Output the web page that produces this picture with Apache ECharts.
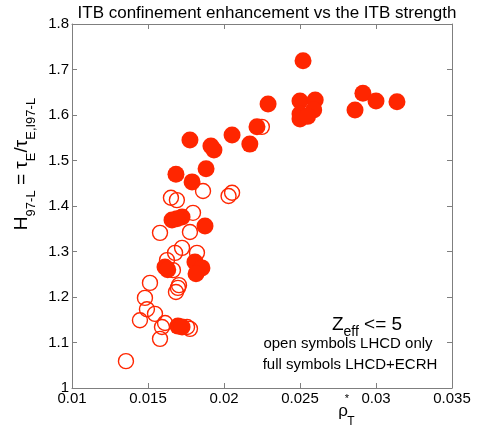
<!DOCTYPE html>
<html><head><meta charset="utf-8">
<script src="https://cdn.jsdelivr.net/npm/echarts@6/dist/echarts.min.js"></script>
<style>html,body{margin:0;padding:0;background:#fff}#c{width:481px;height:434px}</style>
</head><body><div id="c"></div>
<script>
const titleText = 'ITB confinement enhancement vs the ITB strength';
const xTicks = [0.01, 0.015, 0.02, 0.025, 0.03, 0.035];
const yTicks = [1, 1.1, 1.2, 1.3, 1.4, 1.5, 1.6, 1.7, 1.8];
// full symbols: LHCD+ECRH  [rho*_T, H97-L]
const fullSymbols = [
  [0.0252,1.719],[0.0229,1.624],[0.0250,1.631],[0.0250,1.602],[0.0250,1.591],
  [0.0260,1.633],[0.0259,1.611],[0.0255,1.597],[0.02914,1.648],[0.0300,1.631],
  [0.03138,1.629],[0.02862,1.611],[0.02217,1.574],[0.02053,1.556],[0.0217,1.536],
  [0.01914,1.532],[0.01934,1.523],[0.01882,1.482],[0.01776,1.545],[0.01684,1.470],
  [0.0179,1.453],[0.01658,1.369],[0.01724,1.376],[0.0169,1.372],[0.01875,1.356],
  [0.01612,1.266],[0.01630,1.260],[0.01809,1.277],[0.01855,1.264],[0.01816,1.251],
  [0.01697,1.136],[0.01724,1.134]
];
// open symbols: LHCD only
const openSymbols = [
  [0.02249,1.574],[0.02053,1.429],[0.0203,1.422],[0.01862,1.433],[0.01651,1.418],
  [0.0169,1.413],[0.01796,1.385],[0.01579,1.341],[0.01776,1.343],[0.01678,1.297],
  [0.01724,1.308],[0.01625,1.281],[0.01822,1.297],[0.01664,1.259],[0.01513,1.231],
  [0.01697,1.220],[0.01684,1.211],[0.01704,1.226],[0.0148,1.198],[0.01493,1.173],
  [0.01546,1.163],[0.01447,1.149],[0.01592,1.134],[0.01612,1.143],[0.01757,1.134],
  [0.01776,1.130],[0.01579,1.108],[0.01355,1.059]
];
const red = '#ff2600';
const axisGray = '#7f7f7f';
const font = '"Liberation Sans", Arial, Helvetica, sans-serif';
const fmt = v => String(parseFloat(v.toFixed(4)));
const chart = echarts.init(document.getElementById('c'), null, {renderer:'canvas'});
const baseX = {type:'value', min:xTicks[0], max:xTicks[xTicks.length-1], interval:0.005,
  splitLine:{show:false}, axisLine:{lineStyle:{color:axisGray,width:1}},
  axisTick:{inside:true,length:5,lineStyle:{color:axisGray}}};
const baseY = {type:'value', min:yTicks[0], max:yTicks[yTicks.length-1], interval:0.1,
  splitLine:{show:false}, axisLine:{lineStyle:{color:axisGray,width:1}},
  axisTick:{inside:true,length:5,lineStyle:{color:axisGray}}};
chart.setOption({
  animation:false,
  backgroundColor:'#fff',
  title:{text:titleText, left:262, top:0, textAlign:'center',
    textStyle:{fontFamily:font, fontSize:17, fontWeight:'normal', color:'#000'}},
  grid:{left:72, right:29, top:24, bottom:46},
  xAxis:[
    Object.assign({}, baseX, {position:'bottom',
      axisLabel:{color:'#000', fontFamily:font, fontSize:15, margin:3, formatter:fmt}}),
    Object.assign({}, baseX, {position:'top', axisLabel:{show:false}})
  ],
  yAxis:[
    Object.assign({}, baseY, {position:'left',
      axisLabel:{color:'#000', fontFamily:font, fontSize:15, margin:3, formatter:fmt}}),
    Object.assign({}, baseY, {position:'right', axisLabel:{show:false}})
  ],
  series:[
    {type:'scatter', data:openSymbols, symbol:'circle', symbolSize:15,
      itemStyle:{color:'rgba(0,0,0,0)', borderColor:red, borderWidth:1.4, opacity:1}},
    {type:'scatter', data:fullSymbols, symbol:'circle', symbolSize:17,
      itemStyle:{color:red, borderWidth:0, opacity:1}}
  ],
  graphic:[
    {type:'text', x:25, y:164, rotation:Math.PI/2,
      style:{text:'{m|H}{s|97-L}{m| = τ}{s|E}{m|/τ}{s|E,I97-L}', align:'center', verticalAlign:'middle',
        rich:{
          m:{fontFamily:font, fontSize:19, color:'#000', lineHeight:26, verticalAlign:'top'},
          s:{fontFamily:font, fontSize:13, color:'#000', lineHeight:13, verticalAlign:'bottom'}
        }}},
    {type:'text', x:343, y:411, style:{text:'ρ', fontFamily:font, fontSize:17, fill:'#000', align:'center', verticalAlign:'middle'}},
    {type:'text', x:347, y:399, style:{text:'*', fontFamily:font, fontSize:11, fill:'#000', align:'center', verticalAlign:'middle'}},
    {type:'text', x:351, y:422, style:{text:'T', fontFamily:font, fontSize:12, fill:'#000', align:'center', verticalAlign:'middle'}},
    {type:'text', x:367, y:327,
      style:{text:'{m|Z}{s|eff}{m| <= 5}', align:'center', verticalAlign:'middle',
        rich:{
          m:{fontFamily:font, fontSize:19, color:'#000', lineHeight:24, verticalAlign:'top'},
          s:{fontFamily:font, fontSize:14, color:'#000', lineHeight:13, verticalAlign:'bottom'}
        }}},
    {type:'text', x:348, y:344, style:{text:'open symbols LHCD only', fontFamily:font, fontSize:15, fill:'#000', align:'center', verticalAlign:'middle'}},
    {type:'text', x:350, y:365, style:{text:'full symbols LHCD+ECRH', fontFamily:font, fontSize:15, fill:'#000', align:'center', verticalAlign:'middle'}}
  ]
});
</script></body></html>
